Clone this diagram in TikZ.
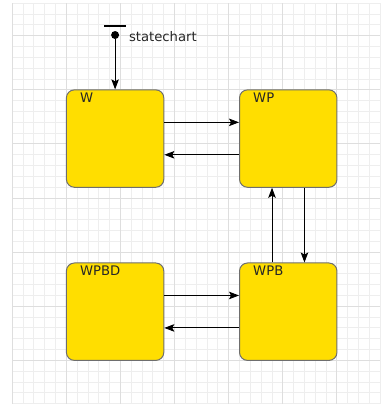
\documentclass[tikz,border=0pt]{standalone}
\usepackage{fontspec}
\setmainfont{DejaVu Sans}
\usetikzlibrary{arrows.meta}

\definecolor{stateyellow}{HTML}{FFDE00}
\definecolor{stateedge}{HTML}{6E6E6E}
\definecolor{gridminor}{HTML}{EEEEEE}
\definecolor{gridmajor}{HTML}{DEDEDE}

\tikzset{
  state/.style={draw=stateedge, fill=stateyellow, line width=1pt, rounded corners=8pt,
    minimum width=97.4pt, minimum height=97.4pt, inner sep=0pt},
  statename/.style={anchor=base west, xshift=14pt, yshift=-13.5pt, inner sep=0pt,
    text=black!85, font=\fontsize{13.2}{15}\selectfont},
  trans/.style={line width=0.9pt, -{Stealth[length=10pt, width=7.5pt, inset=2pt]}},
}

\begin{document}
\begin{tikzpicture}[x=10.82pt, y=-10.82pt]
\useasboundingbox (-1.137,-0.305) rectangle (34.17,37.03);
% grid
\foreach \i in {0,...,34} \draw [gridminor, line width=1pt] (\i,0) -- (\i,37);
\foreach \j in {0,...,37} \draw [gridminor, line width=1pt] (0,\j) -- (34,\j);
\foreach \i in {0,5,...,30} \draw [gridmajor, line width=1pt] (\i,0) -- (\i,37);
\foreach \j in {3,8,...,33} \draw [gridmajor, line width=1pt] (0,\j) -- (34,\j);
% states
\node (W) at (9.5,12.5) [state, label={[statename]north west:W}] {};
\node (WP) at (25.5,12.5) [state, label={[statename]north west:WP}] {};
\node (WPBD) at (9.5,28.5) [state, label={[statename]north west:WPBD}] {};
\node (WPB) at (25.5,28.5) [state, label={[statename]north west:WPB}] {};
% initial
\node (initbar) at (9.5,2.1) [fill=black, minimum width=21.7pt, minimum height=2pt, inner sep=0pt] {};
\node (init) at (9.5,2.93) [circle, fill=black, minimum size=8pt, inner sep=0pt] {};
\node (chart) at (init.east) [anchor=base west, xshift=9.5pt, yshift=-6.7pt, inner sep=0pt,
  text=black!85, font=\fontsize{13.2}{15}\selectfont] {statechart};
\draw [trans] (init) -- (W);
% transitions
\draw [trans] ([yshift=16.23pt]W.east) -- ([yshift=16.23pt]WP.west);
\draw [trans] ([yshift=-16.23pt]WP.west) -- ([yshift=-16.23pt]W.east);
\draw [trans] ([xshift=-16.23pt]WPB.north) -- ([xshift=-16.23pt]WP.south);
\draw [trans] ([xshift=16.23pt]WP.south) -- ([xshift=16.23pt]WPB.north);
\draw [trans] ([yshift=16.23pt]WPBD.east) -- ([yshift=16.23pt]WPB.west);
\draw [trans] ([yshift=-16.23pt]WPB.west) -- ([yshift=-16.23pt]WPBD.east);
\end{tikzpicture}
\end{document}
